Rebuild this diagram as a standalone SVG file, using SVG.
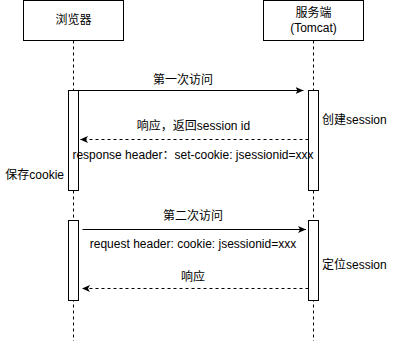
<svg xmlns="http://www.w3.org/2000/svg" width="394" height="341" viewBox="0 0 394 341">
<style>
.box{fill:#fff;stroke:#000;stroke-width:1}
.life{fill:none;stroke:#000;stroke-width:1;stroke-dasharray:3 3}
.msg{fill:none;stroke:#000;stroke-width:1}
.ret{fill:none;stroke:#000;stroke-width:1;stroke-dasharray:3 3}
text{font-family:"Liberation Sans","Noto Sans CJK SC",sans-serif;font-size:12px;fill:#000}
.c{text-anchor:middle}
</style>
<defs>
<marker id="arr" markerUnits="userSpaceOnUse" markerWidth="10" markerHeight="8" refX="8" refY="3.5" orient="auto">
<path d="M0,0 L8,3.5 L0,7 L2,3.5 z" fill="#000"/>
</marker>
</defs>
<rect width="394" height="341" fill="#fff"/>
<g id="lifelines">
<line class="life" x1="73.5" y1="40.5" x2="73.5" y2="341"/>
<line class="life" x1="313.5" y1="40.5" x2="313.5" y2="341"/>
</g>
<g id="browser">
<rect class="box" x="23.5" y="0.5" width="100" height="40"/>
<text class="c" x="73.5" y="24">浏览器</text>
</g>
<g id="server">
<rect class="box" x="263.5" y="0.5" width="100" height="40"/>
<text class="c" x="313.5" y="17">服务端</text>
<text class="c" x="313.5" y="32">(Tomcat)</text>
</g>
<g id="browser-act1">
<rect class="box" x="68.5" y="90.5" width="10" height="100"/>
</g>
<g id="server-act1">
<rect class="box" x="308.5" y="90.5" width="10" height="100"/>
</g>
<g id="browser-act2">
<rect class="box" x="68.5" y="220.5" width="10" height="80"/>
</g>
<g id="server-act2">
<rect class="box" x="308.5" y="220.5" width="10" height="80"/>
</g>
<g id="connectors">
<line class="msg" x1="78.5" y1="90.5" x2="303.5" y2="90.5" marker-end="url(#arr)"/>
<line class="ret" x1="308.5" y1="139.5" x2="80" y2="139.5" marker-end="url(#arr)"/>
<line class="msg" x1="82.5" y1="229.5" x2="306" y2="229.5" marker-end="url(#arr)"/>
<line class="ret" x1="308.5" y1="288.5" x2="82" y2="288.5" marker-end="url(#arr)"/>
</g>
<g id="labels">
<text class="c" x="183" y="84">第一次访问</text>
<text class="c" x="193.5" y="130">响应，返回session id</text>
<text class="c" x="193" y="159">response header：set-cookie: jsessionid=xxx</text>
<text x="322" y="124">创建session</text>
<text x="64" y="179" text-anchor="end">保存cookie</text>
<text class="c" x="193" y="220">第二次访问</text>
<text class="c" x="193" y="248">request header: cookie: jsessionid=xxx</text>
<text x="322" y="269">定位session</text>
<text class="c" x="193" y="281">响应</text>
</g>
</svg>
